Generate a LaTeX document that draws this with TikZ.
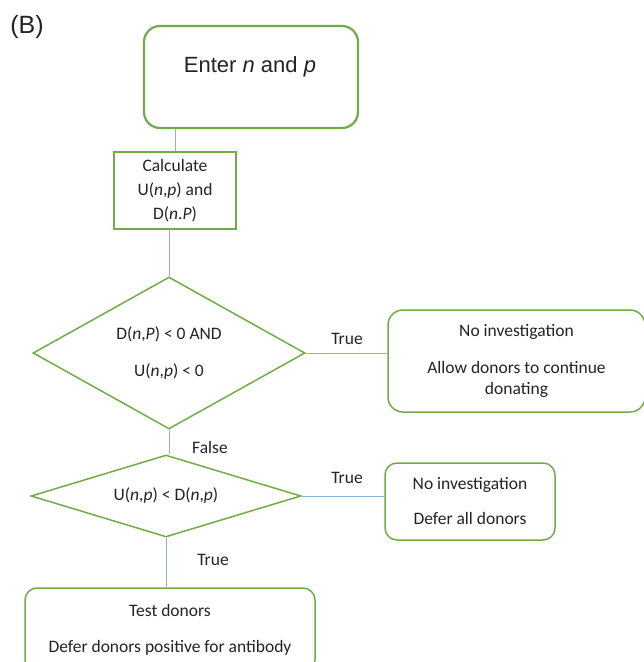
\documentclass[tikz,border=0pt]{standalone}
\usepackage{fontspec}
\setmainfont{Carlito}
\newfontfamily\arialf{Liberation Sans}
\usetikzlibrary{shapes.geometric}
\definecolor{boxgreen}{RGB}{112,173,71}
\definecolor{linkblue}{RGB}{140,178,218}
\definecolor{txt}{RGB}{35,35,35}
\begin{document}
\begin{tikzpicture}[x=1pt,y=-1pt,
  every node/.style={text=txt, font=\fontsize{17.5}{21}\selectfont},
  rbox/.style={draw=boxgreen, rounded corners=12pt, line width=1.5pt, align=center, inner sep=0pt},
  sqbox/.style={draw=boxgreen, line width=2pt, align=center, inner sep=0pt},
  dbox/.style={diamond, draw=boxgreen, line width=1.5pt, align=center, inner sep=0pt},
  link/.style={draw=linkblue, line width=1pt},
  lbl/.style={inner sep=0pt},
  bigtext/.style={font=\arialf\fontsize{22}{26}\selectfont}]
\useasboundingbox (0,0) rectangle (644,662);
\clip (0,0) rectangle (644,662);
\node[font=\arialf\fontsize{25}{30}\selectfont, anchor=base] (tag) at (27,33) {(B)};
\node[rbox, rounded corners=16pt, line width=2.2pt, minimum width=214pt, minimum height=102pt] (top) at (251,77) {};
\node[bigtext, anchor=base] (toptext) at (250,72) {Enter \textit{n} and \textit{p}};
\node[sqbox, minimum width=122pt, minimum height=77pt, font=\fontsize{17.5}{24}\selectfont] (calc) at (175,190.5) {Calculate\\U(\textit{n},\textit{p}) and\\D(\textit{n}.\textit{P})};
\node[dbox, aspect=1.79, minimum width=272pt, minimum height=152pt] (d1) at (169,353) {D(\textit{n},\textit{P}) < 0 AND\\[16pt]U(\textit{n},\textit{p}) < 0};
\node[dbox, aspect=3.3, minimum width=270pt, minimum height=82pt] (d2) at (166,496) {U(\textit{n},\textit{p}) < D(\textit{n},\textit{p})};
\node[rbox, rounded corners=15pt, minimum width=257pt, minimum height=102pt] (r1) at (516.5,361) {No investigation\\[16pt]Allow donors to continue\\donating};
\node[rbox, minimum width=170pt, minimum height=77pt] (r2) at (470,501.5) {No investigation\\[14pt]Defer all donors};
\node[rbox, minimum width=290pt, minimum height=84pt] (bot) at (170,630) {Test donors\\[15pt]Defer donors positive for antibody};
\draw[link] (calc.north |- top.south) -- (calc.north);
\draw[link] (d1.north |- calc.south) -- (d1.north);
\draw[link] (d1.east) -- (d1.east -| r1.west);
\draw[link] (d1.south) -- (d1.south |- d2.north);
\draw[link] (d2.east) -- (d2.east -| r2.west);
\draw[link] (d2.south) -- (d2.south |- bot.north);
\node[lbl] (t1) at (347,339) {True};
\node[lbl] (f1) at (210,447) {False};
\node[lbl] (t2) at (347,478) {True};
\node[lbl] (t3) at (213,560) {True};
\end{tikzpicture}
\end{document}
